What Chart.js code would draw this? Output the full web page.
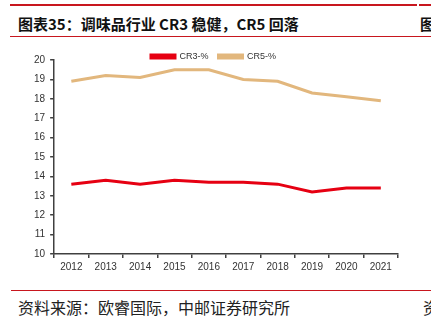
<!DOCTYPE html>
<html>
<head>
<meta charset="utf-8">
<script src="https://cdn.jsdelivr.net/npm/chart.js@4.4.0/dist/chart.umd.min.js"></script>
<style>
  html, body { margin: 0; padding: 0; background: #fff; }
  body { width: 431px; height: 321px; position: relative; overflow: hidden; }
  .rule { position: absolute; background: #c8161e; }
  .title { position: absolute; left: 18px; top: 13px; font: bold 15px "Noto Sans CJK SC", sans-serif; color: #111; white-space: nowrap; }
  .source { position: absolute; left: 18px; top: 295px; font: 16px "Noto Sans CJK SC", serif; color: #222; white-space: nowrap; }
  #wrap { position: absolute; left: 0; top: 40px; width: 431px; height: 240px; }
</style>
</head>
<body>
<div class="rule" style="left:10px;top:4px;width:407px;height:2px"></div>
<div class="rule" style="left:419px;top:4px;width:12px;height:2px"></div>
<div class="title">图表35：调味品行业 CR3 稳健，CR5 回落</div>
<div class="title" style="left:420px">图</div>
<div class="rule" style="left:10px;top:36px;width:421px;height:1px"></div>
<div id="wrap"><canvas id="trend"></canvas></div>
<div class="rule" style="left:11px;top:290px;width:420px;height:1px"></div>
<div class="source">资料来源：欧睿国际，中邮证券研究所</div>
<div class="source" style="left:423px">资</div>
<script>
const years = ["2012", "2013", "2014", "2015", "2016", "2017", "2018", "2019", "2020", "2021"];
const cr3 = [13.6, 13.8, 13.6, 13.8, 13.7, 13.7, 13.6, 13.2, 13.4, 13.4];
const cr5 = [18.9, 19.2, 19.1, 19.5, 19.5, 19.0, 18.9, 18.3, 18.1, 17.9];
const seriesNames = ["CR3-%", "CR5-%"];

const axisColor = "#404040";
const tickFont = { family: "Liberation Sans, Arial, sans-serif", size: 10 };

new Chart(document.getElementById("trend"), {
  type: "line",
  data: {
    labels: years,
    datasets: [
      {
        label: seriesNames[0],
        data: cr3,
        borderColor: "#e60012",
        backgroundColor: "#e60012",
        borderWidth: 3,
        pointRadius: 0,
        tension: 0,
      },
      {
        label: seriesNames[1],
        data: cr5,
        borderColor: "#e2b77d",
        backgroundColor: "#e2b77d",
        borderWidth: 3,
        pointRadius: 0,
        tension: 0,
      },
    ],
  },
  options: {
    responsive: true,
    maintainAspectRatio: false,
    animation: false,
    layout: { padding: { left: 29, right: 33, top: 2, bottom: 4 } },
    plugins: {
      tooltip: { enabled: false },
      legend: {
        position: "top",
        maxHeight: 18,
        labels: {
          boxWidth: 24,
          boxHeight: 3,
          padding: 10,
          color: "#333",
          font: { family: "Liberation Sans, Arial, sans-serif", size: 9 },
        },
      },
    },
    scales: {
      x: {
        offset: true,
        grid: { display: true, offset: true, drawOnChartArea: false, tickLength: 4, color: axisColor, lineWidth: 1.5 },
        border: { color: axisColor, width: 1.5 },
        ticks: { color: "#333", font: tickFont, padding: 3, maxRotation: 0 },
      },
      y: {
        min: 10,
        max: 20,
        grid: { display: true, drawOnChartArea: false, tickLength: 4, color: axisColor, lineWidth: 1.5 },
        border: { color: axisColor, width: 1.5 },
        ticks: { stepSize: 1, color: "#333", font: tickFont, padding: 5 },
      },
    },
  },
});
</script>
</body>
</html>
